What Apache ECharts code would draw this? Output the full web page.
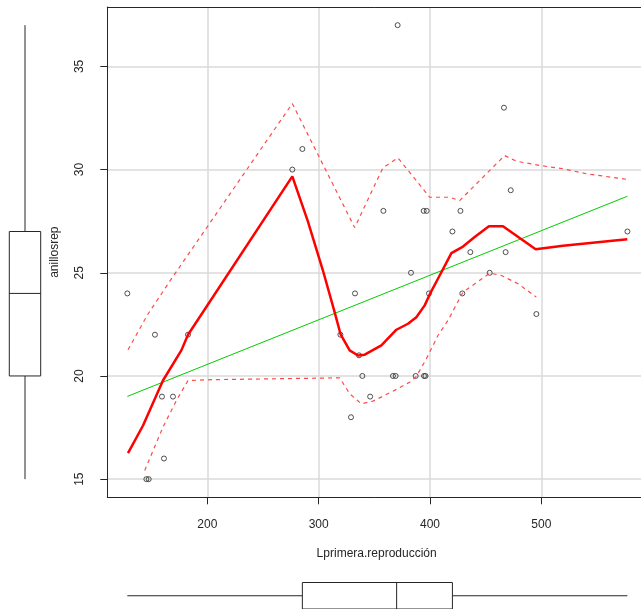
<!DOCTYPE html>
<html><head><meta charset="utf-8">
<script src="https://cdn.jsdelivr.net/npm/echarts@6/dist/echarts.min.js"></script>
<style>html,body{margin:0;padding:0;background:#fff}#c{width:641px;height:609px}</style>
</head><body><div id="c"></div>
<script>
const xName = 'Lprimera.reproducción';
const yName = 'anillosrep';
const xTicks = [200, 300, 400, 500];
const yTicks = [15, 20, 25, 30, 35];
const xRange = [110.1, 589.5];
const yRange = [14.12, 37.88];

const ptX = [128.1,145.2,147.3,152.9,159.2,161.0,169.1,182.6,276.3,285.3,319.5,329.0,332.6,336.2,339.2,346.2,358.1,366.7,369.1,370.9,382.9,387.1,394.3,397.0,394.6,395.9,399.0,420.1,427.3,429.0,436.2,453.6,466.4,467.9,472.5,495.5,577.3];
const ptY = [24,15,15,22,19,16,19,22,30,31,22,18,24,21,20,19,28,20,20,37,25,20,28,28,20,20,24,27,28,24,26,25,33,26,29,23,27];

const regX = [128.1, 577.3];
const regY = [19.01, 28.71];

const smoothX = [128.7,142.2,160.1,176.6,182.6,276.3,290.2,303.8,314.3,319.7,327.8,335.3,341.3,356.3,369.8,380.2,387.7,395.2,399.7,407.1,419.2,429.6,440.1,452.9,465.5,494.9,519.4,577.2];
const smoothY = [16.26,17.60,19.78,21.24,22.00,29.67,27.50,25.11,23.09,22.01,21.24,20.99,21.03,21.48,22.24,22.53,22.85,23.42,23.95,24.71,25.95,26.27,26.73,27.26,27.26,26.14,26.31,26.63];

const upperX = [128.7,146.4,166.1,177.8,276.3,332.3,357.7,371.2,399.7,417.6,426.6,467.0,477.5,498.5,519.4,540.4,577.8];
const upperY = [21.27,22.98,24.58,25.50,33.20,27.19,30.09,30.57,28.66,28.66,28.50,30.68,30.41,30.20,30.04,29.80,29.52];

const lowerX = [143.7,160.1,172.2,182.6,205.0,318.8,327.8,338.3,348.7,366.7,381.7,387.7,396.7,407.1,416.1,429.6,453.6,464.1,479.0,495.5];
const lowerY = [15.42,17.52,18.81,19.78,19.82,19.91,19.14,18.65,18.78,19.26,19.70,19.98,20.83,21.96,22.69,24.06,24.98,24.87,24.47,23.82];

// boxplot stats: whisker low, Q1, median, Q3, whisker high
const xBox = [128.1, 285.3, 370.0, 420.1, 577.3];
const yBox = [15, 20, 24, 27, 37];

const zip = (a, b) => a.map((v, i) => [v, b[i]]);
const INK = '#262626';
const FONT = 'Liberation Sans, Arial, sans-serif';
const boxStyle = { stroke: INK, lineWidth: 1 };
const spreadStyle = { color: '#ff4a4a', width: 1.2, type: [4, 4] };

const chart = echarts.init(document.getElementById('c'), null, { renderer: 'canvas' });
chart.setOption({
  animation: false,
  backgroundColor: '#fff',
  grid: [
    { left: 107.3, top: 7, right: 0, height: 490.3 },
    { left: 9.3, top: 7, width: 31.4, height: 490.3 },
    { left: 107.3, top: 582.5, right: 0, height: 36 }
  ],
  xAxis: [
    { type: 'value', gridIndex: 0, min: xRange[0], max: xRange[1],
      axisLine: { show: true, lineStyle: { color: INK, width: 1 } },
      axisTick: { show: true, customValues: xTicks, length: 7, lineStyle: { color: INK } },
      axisLabel: { customValues: xTicks, margin: 21, fontSize: 12, color: INK, fontFamily: FONT },
      splitLine: { show: true, lineStyle: { color: '#dadada', width: 1.5 } },
      name: xName, nameLocation: 'middle', nameGap: 50,
      nameTextStyle: { fontSize: 12, color: INK, fontFamily: FONT, padding: [0, 0, 0, 5] } },
    { type: 'value', gridIndex: 1, min: 0, max: 1, show: false },
    { type: 'value', gridIndex: 2, min: xRange[0], max: xRange[1], show: false },
    { type: 'value', gridIndex: 0, position: 'top', min: xRange[0], max: xRange[1],
      axisLine: { show: true, lineStyle: { color: INK, width: 1 } },
      axisTick: { show: false }, axisLabel: { show: false }, splitLine: { show: false } }
  ],
  yAxis: [
    { type: 'value', gridIndex: 0, min: yRange[0], max: yRange[1],
      axisLine: { show: true, lineStyle: { color: INK, width: 1 } },
      axisTick: { show: true, customValues: yTicks, length: 7, lineStyle: { color: INK } },
      axisLabel: { customValues: yTicks, rotate: 90, margin: 22, fontSize: 12, color: INK, fontFamily: FONT },
      splitLine: { show: true, lineStyle: { color: '#dadada', width: 1.5 } },
      name: yName, nameLocation: 'middle', nameGap: 47, nameRotate: 90,
      nameTextStyle: { fontSize: 12, color: INK, fontFamily: FONT } },
    { type: 'value', gridIndex: 1, min: yRange[0], max: yRange[1], show: false },
    { type: 'value', gridIndex: 2, min: 0, max: 1, show: false }
  ],
  series: [
    { type: 'scatter', xAxisIndex: 0, yAxisIndex: 0, data: zip(ptX, ptY), symbol: 'circle', symbolSize: 5,
      itemStyle: { color: 'transparent', borderColor: INK, borderWidth: 1 }, z: 2 },
    { type: 'line', xAxisIndex: 0, yAxisIndex: 0, data: zip(regX, regY), symbol: 'none',
      lineStyle: { color: '#00cd00', width: 1 }, z: 3 },
    { type: 'line', xAxisIndex: 0, yAxisIndex: 0, data: zip(upperX, upperY), symbol: 'none',
      lineStyle: spreadStyle, z: 3 },
    { type: 'line', xAxisIndex: 0, yAxisIndex: 0, data: zip(lowerX, lowerY), symbol: 'none',
      lineStyle: spreadStyle, z: 3 },
    { type: 'line', xAxisIndex: 0, yAxisIndex: 0, data: zip(smoothX, smoothY), symbol: 'none',
      lineStyle: { color: '#ff0000', width: 2.5 }, z: 4 },
    { type: 'custom', xAxisIndex: 1, yAxisIndex: 1, data: [[0.5, yBox[2]]], clip: false,
      renderItem: function (params, api) {
        const v = yBox;
        const xl = api.coord([0, v[2]])[0], xr = api.coord([1, v[2]])[0];
        const xc = (xl + xr) / 2;
        const y = (val) => api.coord([0.5, val])[1];
        return { type: 'group', children: [
          { type: 'line', shape: { x1: xc, y1: y(v[0]), x2: xc, y2: y(v[1]) }, style: boxStyle },
          { type: 'line', shape: { x1: xc, y1: y(v[3]), x2: xc, y2: y(v[4]) }, style: boxStyle },
          { type: 'rect', shape: { x: xl, y: y(v[3]), width: xr - xl, height: y(v[1]) - y(v[3]) }, style: { fill: '#fff', stroke: INK, lineWidth: 1 } },
          { type: 'line', shape: { x1: xl, y1: y(v[2]), x2: xr, y2: y(v[2]) }, style: boxStyle }
        ] };
      } },
    { type: 'custom', xAxisIndex: 2, yAxisIndex: 2, data: [[xBox[2], 0.5]], clip: false,
      renderItem: function (params, api) {
        const v = xBox;
        const yt = api.coord([v[2], 1])[1], yb = api.coord([v[2], 0])[1];
        const yc = (yt + yb) / 2;
        const x = (val) => api.coord([val, 0.5])[0];
        return { type: 'group', children: [
          { type: 'line', shape: { x1: x(v[0]), y1: yc, x2: x(v[1]), y2: yc }, style: boxStyle },
          { type: 'line', shape: { x1: x(v[3]), y1: yc, x2: x(v[4]), y2: yc }, style: boxStyle },
          { type: 'rect', shape: { x: x(v[1]), y: yt, width: x(v[3]) - x(v[1]), height: yb - yt }, style: { fill: '#fff', stroke: INK, lineWidth: 1 } },
          { type: 'line', shape: { x1: x(v[2]), y1: yt, x2: x(v[2]), y2: yb }, style: boxStyle }
        ] };
      } }
  ]
});
</script>
</body></html>
